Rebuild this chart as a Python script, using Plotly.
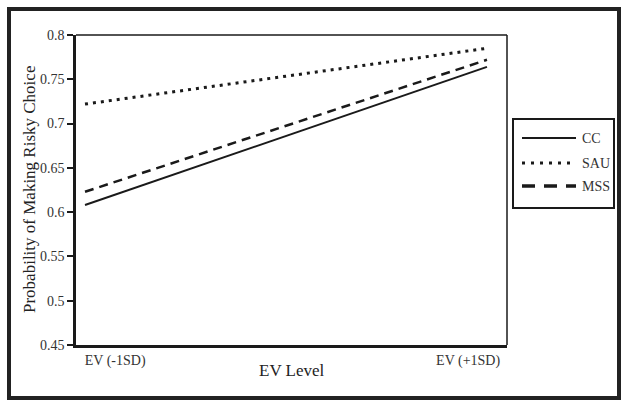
import plotly.graph_objects as go

# EV level positions (0 = -1SD, 1 = +1SD)
ev_pos = [0, 1]
ev_labels = ["EV (-1SD)", "EV (+1SD)"]

groups = ["CC", "SAU", "MSS"]
cc_vals = [0.608, 0.764]
sau_vals = [0.722, 0.785]
mss_vals = [0.623, 0.772]

y_ticks = [0.45, 0.5, 0.55, 0.6, 0.65, 0.7, 0.75, 0.8]

serif = "Liberation Serif"
ink = "#1a1a1a"

styles = {
    "CC": dict(color=ink, width=2, dash="solid"),
    "SAU": dict(color=ink, width=3, dash="3px,5px"),
    "MSS": dict(color=ink, width=2.5, dash="9px,6px"),
}
legend_styles = {
    "CC": dict(color=ink, width=2, dash="solid"),
    "SAU": dict(color=ink, width=3, dash="3px,6px"),
    "MSS": dict(color=ink, width=3.5, dash="13px,9px"),
}

# plot area in pixels: x 76..507, y 35..345
def px_x(x):
    return (x - 76) / 431


def px_y(y):
    return (345 - y) / 310


fig = go.Figure()
for name, vals in zip(groups, [cc_vals, sau_vals, mss_vals]):
    fig.add_trace(go.Scatter(
        x=ev_pos, y=vals, mode="lines", name=name,
        line=styles[name], showlegend=False,
    ))

shapes = [
    # thin top / right edges of plot box
    dict(type="line", xref="paper", yref="paper", x0=0, x1=1, y0=1, y1=1,
         line=dict(color=ink, width=1.5)),
    dict(type="line", xref="paper", yref="paper", x0=1, x1=1, y0=0, y1=1,
         line=dict(color=ink, width=1.5)),
    # outer frame
    dict(type="rect", xref="paper", yref="paper",
         x0=px_x(9), x1=px_x(619), y0=px_y(398), y1=px_y(9),
         line=dict(color="#222", width=4)),
    # legend box
    dict(type="rect", xref="paper", yref="paper",
         x0=px_x(513), x1=px_x(614), y0=px_y(208), y1=px_y(119),
         line=dict(color=ink, width=2)),
]

annotations = [
    dict(text="Probability of Making Risky Choice", textangle=-90,
         xref="paper", yref="paper", x=px_x(29), y=px_y(190),
         xanchor="center", yanchor="middle",
         showarrow=False, font=dict(family=serif, size=17, color="#222")),
    dict(text="EV Level", xref="paper", yref="paper",
         x=0.5, y=px_y(370), xanchor="center", yanchor="middle",
         showarrow=False, font=dict(family=serif, size=17, color="#222")),
]

# hand-drawn legend entries
for name, ly in zip(groups, [138, 163, 186]):
    shapes.append(dict(type="line", xref="paper", yref="paper",
                       x0=px_x(522), x1=px_x(576), y0=px_y(ly), y1=px_y(ly),
                       line=legend_styles[name]))
    annotations.append(dict(text=name, xref="paper", yref="paper",
                            x=px_x(580), y=px_y(ly), xanchor="left", yanchor="middle",
                            showarrow=False, font=dict(family=serif, size=14, color="#333")))

fig.update_layout(
    width=629, height=409,
    margin=dict(l=76, r=122, t=35, b=64),
    plot_bgcolor="white", paper_bgcolor="white",
    font=dict(family=serif, size=14, color="#333"),
    showlegend=False,
    xaxis=dict(
        range=[-0.0224, 1.0498],
        tickvals=[0.075, 0.953], ticktext=ev_labels,
        ticks="", showgrid=False, zeroline=False,
        showline=True, linecolor=ink, linewidth=2.5,
        tickfont=dict(family=serif, size=14, color="#333"),
    ),
    yaxis=dict(
        range=[0.45, 0.8],
        tickvals=y_ticks,
        ticks="outside", ticklen=6, tickwidth=2, tickcolor=ink,
        showgrid=False, zeroline=False,
        showline=True, linecolor=ink, linewidth=2.5,
        tickfont=dict(family=serif, size=14, color="#333"),
    ),
    shapes=shapes,
    annotations=annotations,
)

fig.write_html("out.html", config={"displayModeBar": False},
               post_script="document.body.style.margin='0';")
